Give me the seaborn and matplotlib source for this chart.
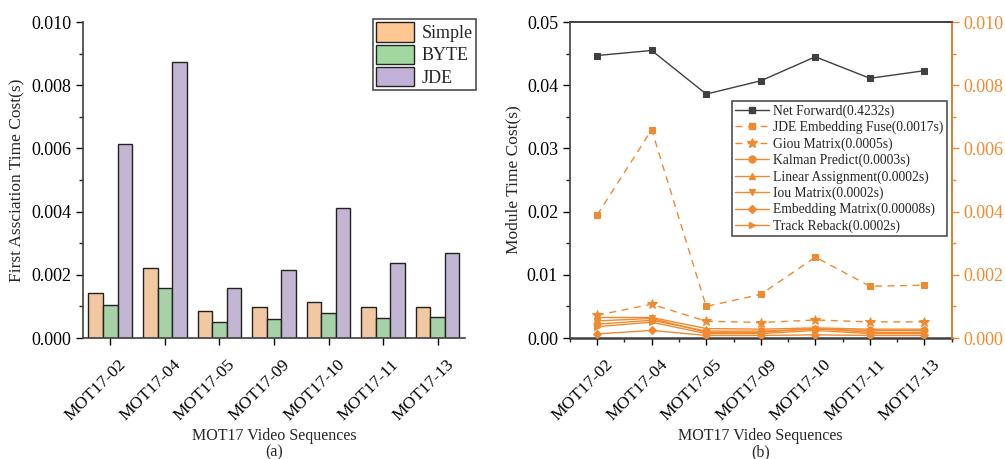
import matplotlib
matplotlib.use("Agg")
import matplotlib.pyplot as plt
import matplotlib.transforms as mtransforms
from matplotlib.ticker import MultipleLocator, FormatStrFormatter
from matplotlib.lines import Line2D
from matplotlib.patches import Patch
import pandas as pd
import seaborn as sns

# sequences on the x axis
seqs = ["MOT17-02", "MOT17-04", "MOT17-05", "MOT17-09", "MOT17-10", "MOT17-11", "MOT17-13"]

# (a) first association time cost
simple = [0.00143, 0.00222, 0.00086, 0.00097, 0.00113, 0.00098, 0.00097]
byte = [0.00106, 0.00159, 0.00051, 0.00060, 0.00079, 0.00064, 0.00068]
jde = [0.00613, 0.00872, 0.00159, 0.00214, 0.00413, 0.00236, 0.00270]

# (b) module time cost
net_forward = [0.0447, 0.0455, 0.0386, 0.0407, 0.0445, 0.0411, 0.0423]
jde_fuse = [0.00389, 0.00659, 0.00100, 0.00138, 0.00256, 0.00164, 0.00167]
giou = [0.00072, 0.00107, 0.00053, 0.00049, 0.00057, 0.00051, 0.00051]
kalman = [0.00044, 0.00056, 0.00022, 0.00022, 0.00028, 0.00024, 0.00024]
linear = [0.00065, 0.00065, 0.00030, 0.00028, 0.00032, 0.00028, 0.00028]
iou = [0.00054, 0.00062, 0.00018, 0.00018, 0.00030, 0.00018, 0.00018]
emb_matrix = [0.00013, 0.00024, 0.00008, 0.00008, 0.00010, 0.00008, 0.00008]
reback = [0.00036, 0.00050, 0.00014, 0.00014, 0.00024, 0.00014, 0.00014]

sns.set_style("ticks")
plt.rcParams["font.family"] = ["Liberation Serif", "DejaVu Serif"]

GRAY = "#404040"
ORANGE = "#F08A30"
bar_colors = ["#FFC793", "#A0D89F", "#C2B1D7"]

fig = plt.figure(figsize=(10.05, 4.59), dpi=100)
ax1 = fig.add_axes([0.0826, 0.2636, 0.38, 0.6884])
ax2 = fig.add_axes([0.567, 0.2636, 0.3800, 0.6884])

# ---------- (a) bar chart ----------
df_bar = pd.DataFrame({"seq": seqs * 3,
                       "value": simple + byte + jde,
                       "method": ["Simple"] * 7 + ["BYTE"] * 7 + ["JDE"] * 7})
sns.barplot(data=df_bar, x="seq", y="value", hue="method", palette=bar_colors,
            edgecolor="#222222", linewidth=1.0, width=0.8, ax=ax1, legend=False)
ax1.set_xlim(-0.5, 6.5)
ax1.set_ylim(0, 0.010)
ax1.yaxis.set_major_locator(MultipleLocator(0.002))
ax1.yaxis.set_minor_locator(MultipleLocator(0.001))
ax1.yaxis.set_major_formatter(FormatStrFormatter("%.3f"))
ax1.set_ylabel("First Assciation Time Cost(s)", fontsize=12.5)
ax1.set_xlabel("MOT17 Video Sequences\n(a)", fontsize=11.5, labelpad=3, linespacing=1.05)
for s in ["top", "right"]:
    ax1.spines[s].set_visible(False)
handles = [Patch(facecolor=c, edgecolor="#222222", linewidth=1.0) for c in bar_colors]
leg = ax1.legend(handles, ["Simple", "BYTE", "JDE"], loc="upper right",
                 bbox_to_anchor=(1.03, 1.01), fontsize=13, frameon=True,
                 fancybox=False, edgecolor="#222222", handlelength=2.1,
                 handleheight=1.25, handletextpad=0.4, labelspacing=0.15,
                 borderpad=0.2, borderaxespad=0.0)
leg.get_frame().set_linewidth(1.2)

# ---------- (b) line chart ----------
df_line = pd.DataFrame({"seq": seqs, "v": net_forward})
sns.lineplot(data=df_line, x="seq", y="v", color=GRAY, marker="s", markersize=5,
             linewidth=1.0, markeredgecolor=GRAY, ax=ax2, sort=False)
ax3 = ax2.twinx()
right_series = [
    (jde_fuse, "s", (0, (5, 4)), ORANGE, 5),
    (giou, "*", (0, (5, 4)), ORANGE, 7),
    (kalman, "o", "-", ORANGE, 5),
    (linear, "^", "-", ORANGE, 5),
    (iou, "v", "-", ORANGE, 5),
    (emb_matrix, "D", "-", ORANGE, 4),
    (reback, ">", "-", ORANGE, 5),
]
for vals, mk, ls, col, ms in right_series:
    d = pd.DataFrame({"seq": seqs, "v": vals})
    sns.lineplot(data=d, x="seq", y="v", color=col, marker=mk, markersize=ms,
                 linestyle=ls, linewidth=1.0, markeredgecolor=col, ax=ax3, sort=False)

ax2.set_xlim(-0.5, 6.5)
ax2.set_ylim(0, 0.05)
ax3.set_ylim(0, 0.010)
ax2.yaxis.set_major_locator(MultipleLocator(0.01))
ax2.yaxis.set_minor_locator(MultipleLocator(0.005))
ax2.yaxis.set_major_formatter(FormatStrFormatter("%.2f"))
ax3.yaxis.set_major_locator(MultipleLocator(0.002))
ax3.yaxis.set_minor_locator(MultipleLocator(0.001))
ax3.yaxis.set_major_formatter(FormatStrFormatter("%.3f"))
ax2.xaxis.set_minor_locator(MultipleLocator(0.5))
ax2.set_ylabel("Module Time Cost(s)", fontsize=12.5)
ax3.set_ylabel("")
ax2.set_xlabel("MOT17 Video Sequences\n(b)", fontsize=11.5, labelpad=3, linespacing=1.05)

ax3.spines["right"].set_color(ORANGE)
ax3.tick_params(axis="y", which="both", colors=ORANGE, labelsize=13)
ax3.spines["top"].set_color(GRAY)
ax3.spines["left"].set_visible(False)
ax3.spines["bottom"].set_visible(False)

leg_handles = [Line2D([], [], color=GRAY, marker="s", markersize=5, lw=1.0)]
for vals, mk, ls, col, ms in right_series:
    leg_handles.append(Line2D([], [], color=col, marker=mk, markersize=ms, linestyle=ls, lw=1.0))
leg_labels = ["Net Forward(0.4232s)", "JDE Embedding Fuse(0.0017s)", "Giou Matrix(0.0005s)",
              "Kalman Predict(0.0003s)", "Linear Assignment(0.0002s)", "Iou Matrix(0.0002s)",
              "Embedding Matrix(0.00008s)", "Track Reback(0.0002s)"]
leg2 = ax3.legend(leg_handles, leg_labels, loc="upper right", bbox_to_anchor=(0.988, 0.751),
                  fontsize=9.8, frameon=True, fancybox=False, edgecolor="#222222",
                  handlelength=2.5, handletextpad=0.3, labelspacing=0.22,
                  borderpad=0.25, borderaxespad=0.0)
leg2.get_frame().set_linewidth(1.2)

# shift rotated tick labels a little right and down, as in the original
shift = mtransforms.ScaledTranslation(8 / 100, -6 / 100, fig.dpi_scale_trans)
for ax in (ax1, ax2):
    ax.set_xticks(range(len(seqs)))
    ax.set_xticklabels(seqs, rotation=45, ha="right", va="top", rotation_mode="anchor")
    ax.tick_params(axis="both", which="major", labelsize=13, length=5, width=1.0, colors="black")
    ax.tick_params(axis="x", which="major", labelsize=12.5, pad=4)
    ax.tick_params(axis="both", which="minor", length=3, width=1.0)
    for lab in ax.get_xticklabels():
        lab.set_transform(lab.get_transform() + shift)
    for sp in ax.spines.values():
        sp.set_color(GRAY)
        sp.set_linewidth(1.2)
ax3.spines["right"].set_linewidth(1.2)
ax3.spines["top"].set_linewidth(1.2)
ax3.tick_params(axis="y", which="major", length=5, width=1.0)
ax3.tick_params(axis="y", which="minor", length=3, width=1.0)
ax2.spines["bottom"].set_linewidth(1.8)

fig.savefig("out.png", dpi=100)
